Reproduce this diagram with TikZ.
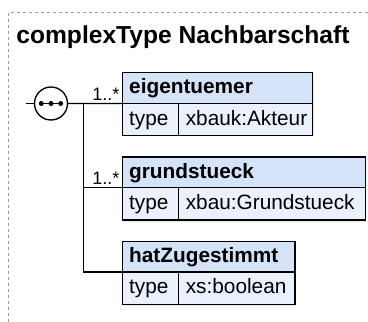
\documentclass[tikz,border=0pt]{standalone}
\usepackage{fontspec}
\setmainfont{Liberation Sans}
\definecolor{hdrblue}{HTML}{D5E3F8}
\definecolor{rowblue}{HTML}{EAF1FC}
\definecolor{framegray}{HTML}{9A9A9A}
\tikzset{
  frameline/.style={draw=framegray, dash pattern=on 3.3pt off 2.7pt, line width=0.9pt},
  boxshadow/.style={fill=black!9, draw=none},
  hdrbox/.style={rectangle, draw=black, line width=1.35pt, fill=hdrblue, inner sep=0pt, outer sep=0pt, anchor=north west, minimum height=30.7pt},
  rowcell/.style={rectangle, draw=black, line width=1.35pt, fill=rowblue, inner sep=0pt, outer sep=0pt, anchor=north west, minimum height=32.3pt},
  hdrtxt/.style={anchor=base west, inner sep=0pt, font=\fontsize{20.8}{24}\selectfont\bfseries},
  rowtxt/.style={anchor=base west, inner sep=0pt, font=\fontsize{20.8}{24}\selectfont},
  multtxt/.style={anchor=base east, inner sep=0pt, font=\fontsize{18}{21}\selectfont},
  titletxt/.style={anchor=base west, inner sep=0pt, font=\fontsize{24.6}{28}\selectfont\bfseries},
  conn/.style={draw=black, line width=1.35pt},
  compositor/.style={circle, draw=black, line width=1.35pt, fill=white, minimum size=33pt, inner sep=0pt},
  seqdot/.style={circle, fill=black, minimum size=5pt, inner sep=0pt},
}
\begin{document}
\begin{tikzpicture}[x=1pt,y=-1pt]
\useasboundingbox (0,0) rectangle (368,322);
% dashed frame
\coordinate (ftl) at (8.5,12);
\coordinate (ftr) at (368,12);
\coordinate (fbl) at (8.5,322);
\draw[frameline] (ftr) -- (ftl) -- (fbl);
% title
\node[titletxt] (title) at (16.2,43.5) {complexType Nachbarschaft};

% shadows
\fill[boxshadow] (124.0,74.1) rectangle (314.0,136.4);
\fill[boxshadow] (124.0,158.4) rectangle (366.3,221.9);
\fill[boxshadow] (124.0,242.6) rectangle (296.3,305.6);

% box 1
\node[hdrbox, minimum width=190pt] (eh) at (122.7,72.8) {};
\node[rowcell, minimum width=55.6pt] (et) at (eh.south west) {};
\node[rowcell, minimum width=134.4pt] (ev) at (et.north east) {};
\node[hdrtxt] (eht) at ([xshift=6.3pt,yshift=9.8pt]eh.south west) {eigentuemer};
\node[rowtxt] (ett) at ([xshift=6.3pt,yshift=10.6pt]et.south west) {type};
\node[rowtxt] (evt) at ([xshift=7.3pt,yshift=10.6pt]ev.south west) {xbauk:Akteur};

% box 2
\node[hdrbox, minimum width=242.7pt] (gh) at (122.7,157.1) {};
\node[rowcell, minimum width=55.6pt] (gt) at (gh.south west) {};
\node[rowcell, minimum width=187.1pt] (gv) at (gt.north east) {};
\node[hdrtxt] (ght) at ([xshift=6.3pt,yshift=9.8pt]gh.south west) {grundstueck};
\node[rowtxt] (gtt) at ([xshift=6.3pt,yshift=10.6pt]gt.south west) {type};
\node[rowtxt] (gvt) at ([xshift=7.3pt,yshift=10.6pt]gv.south west) {xbau:Grundstueck};

% box 3
\node[hdrbox, minimum width=172.3pt] (zh) at (122.7,241.3) {};
\node[rowcell, minimum width=55.6pt] (zt) at (zh.south west) {};
\node[rowcell, minimum width=116.7pt] (zv) at (zt.north east) {};
\node[hdrtxt] (zht) at ([xshift=6.3pt,yshift=9.8pt]zh.south west) {hatZugestimmt};
\node[rowtxt] (ztt) at ([xshift=6.3pt,yshift=10.6pt]zt.south west) {type};
\node[rowtxt] (zvt) at ([xshift=7.3pt,yshift=10.6pt]zv.south west) {xs:boolean};

% compositor and connectors
\coordinate (start) at (26,103.5);
\coordinate (junc) at (83.3,103.5);
\node[compositor] (seq) at (51,103.5) {};
\draw[conn] (start) -- (seq.west);
\draw[conn] (seq.east) -- (eh.south west);
\draw[conn] (junc) |- (gh.south west);
\draw[conn] (junc) |- (zh.south west);
\node[seqdot] (d1) at (41.3,103.5) {};
\node[seqdot] (d2) at (51,103.5) {};
\node[seqdot] (d3) at (60.7,103.5) {};
\draw[conn] (d1) -- (d3);

% multiplicities
\node[multtxt] (m1) at ([xshift=-3.2pt,yshift=3.5pt]eh.south west) {1..*};
\node[multtxt] (m2) at ([xshift=-3.2pt,yshift=3.5pt]gh.south west) {1..*};
\end{tikzpicture}
\end{document}
